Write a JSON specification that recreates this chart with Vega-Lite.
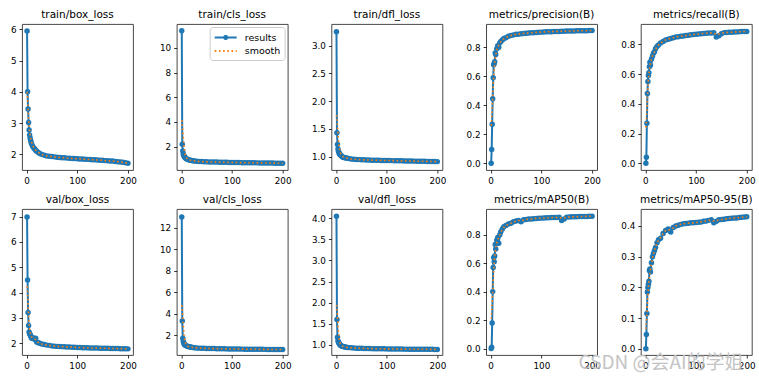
{
"$schema":"https://vega.github.io/schema/vega-lite/v6.json",
"background":"white",
"padding":{"left":1,"top":9,"right":0,"bottom":0},
"title":{"text":"CSDN @会AI的学姐","orient":"bottom","anchor":"end","fontSize":19,"color":"#c4c4c4","font":"Noto Sans CJK SC","fontWeight":"normal","offset":-16,"dx":-12},
"data":{"values":[
{"e":1,"tb":5.95,"tbs":4.0,"tc":11.4,"tcs":4.15,"td":3.25,"tds":1.75,"p":0,"ps":0.26,"rc":0,"rcs":0.24,"vb":6.98,"vbs":4.25,"vc":13.0,"vcs":4.8,"vd":4.05,"vds":1.95,"m50":0,"m50s":0.21,"m95":0,"m95s":0.065},
{"e":2,"tb":4.0,"tbs":3.8,"tc":2.2,"tcs":3.8,"td":1.43,"tds":1.68,"p":0.095,"ps":0.30,"rc":0.04,"rcs":0.28,"vb":4.5,"vbs":4.0,"vc":3.3,"vcs":4.4,"vd":1.6,"vds":1.85,"m50":0.01,"m50s":0.25,"m95":0.047,"m95s":0.08},
{"e":3,"tb":3.45,"tbs":3.45,"tc":1.65,"tcs":3.2,"td":1.22,"tds":1.55,"p":0.27,"ps":0.37,"rc":0.27,"rcs":0.35,"vb":3.22,"vbs":3.55,"vc":1.7,"vcs":3.6,"vd":1.18,"vds":1.65,"m50":0.18,"m50s":0.32,"m95":0.115,"m95s":0.11},
{"e":4,"tb":3.02,"tbs":3.15,"tc":1.4,"tcs":2.7,"td":1.14,"tds":1.42,"p":0.445,"ps":0.45,"rc":0.47,"rcs":0.43,"vb":2.7,"vbs":3.1,"vc":1.4,"vcs":2.9,"vd":1.1,"vds":1.45,"m50":0.40,"m50s":0.40,"m95":0.185,"m95s":0.145},
{"e":5,"tb":2.78,"tbs":2.92,"tc":1.28,"tcs":2.2,"td":1.10,"tds":1.30,"p":0.59,"ps":0.53,"rc":0.55,"rcs":0.50,"vb":2.45,"vbs":2.78,"vc":1.25,"vcs":2.3,"vd":1.06,"vds":1.3,"m50":0.57,"m50s":0.48,"m95":0.20,"m95s":0.175},
{"e":6,"tb":2.62,"tbs":2.75,"tc":1.2,"tcs":1.8,"td":1.07,"tds":1.21,"p":0.68,"ps":0.60,"rc":0.59,"rcs":0.56,"vb":2.38,"vbs":2.58,"vc":1.15,"vcs":1.8,"vd":1.04,"vds":1.18,"m50":0.64,"m50s":0.55,"m95":0.21,"m95s":0.20},
{"e":7,"tb":2.52,"tbs":2.63,"tc":1.14,"tcs":1.5,"td":1.05,"tds":1.15,"p":0.69,"ps":0.65,"rc":0.61,"rcs":0.60,"vb":2.35,"vbs":2.45,"vc":1.1,"vcs":1.5,"vd":1.02,"vds":1.1,"m50":0.61,"m50s":0.60,"m95":0.22,"m95s":0.218},
{"e":8,"tb":2.45,"tbs":2.53,"tc":1.1,"tcs":1.32,"td":1.04,"tds":1.10,"p":0.70,"ps":0.69,"rc":0.65,"rcs":0.63,"vb":2.3,"vbs":2.37,"vc":1.05,"vcs":1.3,"vd":1.0,"vds":1.05,"m50":0.65,"m50s":0.645,"m95":0.255,"m95s":0.232},
{"e":9,"tb":2.38,"tbs":2.46,"tc":1.06,"tcs":1.2,"td":1.03,"tds":1.07,"p":0.76,"ps":0.72,"rc":0.68,"rcs":0.655,"vb":2.25,"vbs":2.3,"vc":1.02,"vcs":1.17,"vd":0.99,"vds":1.02,"m50":0.73,"m50s":0.68,"m95":0.26,"m95s":0.245},
{"e":10,"tb":2.33,"tbs":2.40,"tc":1.03,"tcs":1.13,"td":1.02,"tds":1.05,"p":0.75,"ps":0.745,"rc":0.66,"rcs":0.67,"vb":2.2,"vbs":2.25,"vc":1.0,"vcs":1.09,"vd":0.98,"vds":1.0,"m50":0.70,"m50s":0.71,"m95":0.25,"m95s":0.255},
{"e":12,"tb":2.26,"tbs":2.30,"tc":0.98,"tcs":1.01,"td":1.0,"tds":1.02,"p":0.79,"ps":0.78,"rc":0.70,"rcs":0.70,"vb":2.22,"vbs":2.21,"vc":0.95,"vcs":0.98,"vd":0.97,"vds":0.975,"m50":0.76,"m50s":0.745,"m95":0.28,"m95s":0.275},
{"e":14,"tb":2.21,"tbs":2.23,"tc":0.95,"tcs":0.96,"td":0.99,"tds":1.0,"p":0.81,"ps":0.80,"rc":0.72,"rcs":0.72,"vb":2.2,"vbs":2.19,"vc":0.92,"vcs":0.93,"vd":0.96,"vds":0.962,"m50":0.78,"m50s":0.765,"m95":0.30,"m95s":0.295},
{"e":16,"tb":2.17,"tbs":2.18,"tc":0.92,"tcs":0.925,"td":0.985,"tds":0.99,"p":0.80,"ps":0.815,"rc":0.74,"rcs":0.737,"vb":2.15,"vbs":2.17,"vc":0.9,"vcs":0.9,"vd":0.955,"vds":0.955,"m50":0.74,"m50s":0.78,"m95":0.31,"m95s":0.308},
{"e":18,"tb":2.13,"tbs":2.14,"tc":0.9,"tcs":0.9,"td":0.98,"tds":0.983,"p":0.83,"ps":0.827,"rc":0.75,"rcs":0.75,"vb":2.2,"vbs":2.15,"vc":0.88,"vcs":0.88,"vd":0.95,"vds":0.95,"m50":0.80,"m50s":0.80,"m95":0.32,"m95s":0.32},
{"e":20,"tb":2.10,"tbs":2.11,"tc":0.88,"tcs":0.88,"td":0.975,"tds":0.977,"p":0.84,"ps":0.838,"rc":0.77,"rcs":0.765,"vb":2.05,"vbs":2.1,"vc":0.86,"vcs":0.86,"vd":0.945,"vds":0.945,"m50":0.82,"m50s":0.815,"m95":0.33,"m95s":0.33},
{"e":23,"tb":2.06,"tbs":2.065,"tc":0.86,"tcs":0.86,"td":0.97,"tds":0.97,"p":0.85,"ps":0.85,"rc":0.785,"rcs":0.783,"vb":2.02,"vbs":2.03,"vc":0.84,"vcs":0.84,"vd":0.94,"vds":0.94,"m50":0.84,"m50s":0.835,"m95":0.345,"m95s":0.345},
{"e":26,"tb":2.03,"tbs":2.035,"tc":0.84,"tcs":0.84,"td":0.965,"tds":0.965,"p":0.86,"ps":0.858,"rc":0.795,"rcs":0.795,"vb":2.0,"vbs":2.0,"vc":0.82,"vcs":0.82,"vd":0.935,"vds":0.935,"m50":0.855,"m50s":0.85,"m95":0.355,"m95s":0.353},
{"e":30,"tb":2.00,"tbs":2.0,"tc":0.82,"tcs":0.82,"td":0.96,"tds":0.96,"p":0.865,"ps":0.866,"rc":0.81,"rcs":0.808,"vb":1.97,"vbs":1.97,"vc":0.80,"vcs":0.80,"vd":0.93,"vds":0.93,"m50":0.865,"m50s":0.862,"m95":0.36,"m95s":0.362},
{"e":35,"tb":1.97,"tbs":1.97,"tc":0.80,"tcs":0.80,"td":0.955,"tds":0.955,"p":0.875,"ps":0.875,"rc":0.82,"rcs":0.82,"vb":1.95,"vbs":1.95,"vc":0.78,"vcs":0.78,"vd":0.926,"vds":0.926,"m50":0.875,"m50s":0.875,"m95":0.375,"m95s":0.375},
{"e":40,"tb":1.95,"tbs":1.95,"tc":0.79,"tcs":0.79,"td":0.95,"tds":0.95,"p":0.88,"ps":0.88,"rc":0.83,"rcs":0.83,"vb":1.93,"vbs":1.93,"vc":0.77,"vcs":0.77,"vd":0.922,"vds":0.922,"m50":0.88,"m50s":0.88,"m95":0.385,"m95s":0.385},
{"e":45,"tb":1.94,"tbs":1.94,"tc":0.78,"tcs":0.78,"td":0.947,"tds":0.947,"p":0.885,"ps":0.885,"rc":0.835,"rcs":0.835,"vb":1.92,"vbs":1.92,"vc":0.76,"vcs":0.76,"vd":0.92,"vds":0.92,"m50":0.89,"m50s":0.89,"m95":0.39,"m95s":0.387},
{"e":50,"tb":1.93,"tbs":1.93,"tc":0.77,"tcs":0.77,"td":0.945,"tds":0.945,"p":0.89,"ps":0.89,"rc":0.84,"rcs":0.84,"vb":1.90,"vbs":1.90,"vc":0.75,"vcs":0.75,"vd":0.918,"vds":0.918,"m50":0.895,"m50s":0.895,"m95":0.38,"m95s":0.388},
{"e":55,"tb":1.92,"tbs":1.92,"tc":0.765,"tcs":0.765,"td":0.943,"tds":0.943,"p":0.89,"ps":0.89,"rc":0.845,"rcs":0.845,"vb":1.89,"vbs":1.89,"vc":0.745,"vcs":0.745,"vd":0.916,"vds":0.916,"m50":0.90,"m50s":0.899,"m95":0.395,"m95s":0.393},
{"e":60,"tb":1.91,"tbs":1.91,"tc":0.76,"tcs":0.76,"td":0.941,"tds":0.941,"p":0.893,"ps":0.893,"rc":0.85,"rcs":0.85,"vb":1.88,"vbs":1.88,"vc":0.74,"vcs":0.74,"vd":0.914,"vds":0.914,"m50":0.89,"m50s":0.899,"m95":0.40,"m95s":0.40},
{"e":65,"tb":1.90,"tbs":1.90,"tc":0.755,"tcs":0.755,"td":0.939,"tds":0.939,"p":0.895,"ps":0.895,"rc":0.852,"rcs":0.852,"vb":1.875,"vbs":1.875,"vc":0.735,"vcs":0.735,"vd":0.912,"vds":0.912,"m50":0.905,"m50s":0.902,"m95":0.402,"m95s":0.402},
{"e":70,"tb":1.895,"tbs":1.895,"tc":0.75,"tcs":0.75,"td":0.937,"tds":0.937,"p":0.897,"ps":0.897,"rc":0.855,"rcs":0.855,"vb":1.87,"vbs":1.87,"vc":0.73,"vcs":0.73,"vd":0.911,"vds":0.911,"m50":0.907,"m50s":0.907,"m95":0.405,"m95s":0.405},
{"e":75,"tb":1.89,"tbs":1.89,"tc":0.745,"tcs":0.745,"td":0.936,"tds":0.936,"p":0.898,"ps":0.898,"rc":0.857,"rcs":0.857,"vb":1.865,"vbs":1.865,"vc":0.725,"vcs":0.725,"vd":0.91,"vds":0.91,"m50":0.909,"m50s":0.909,"m95":0.407,"m95s":0.407},
{"e":80,"tb":1.88,"tbs":1.88,"tc":0.74,"tcs":0.74,"td":0.935,"tds":0.935,"p":0.90,"ps":0.90,"rc":0.86,"rcs":0.86,"vb":1.86,"vbs":1.86,"vc":0.72,"vcs":0.72,"vd":0.909,"vds":0.909,"m50":0.91,"m50s":0.91,"m95":0.408,"m95s":0.408},
{"e":85,"tb":1.875,"tbs":1.875,"tc":0.735,"tcs":0.735,"td":0.934,"tds":0.934,"p":0.90,"ps":0.90,"rc":0.862,"rcs":0.862,"vb":1.855,"vbs":1.855,"vc":0.715,"vcs":0.715,"vd":0.908,"vds":0.908,"m50":0.912,"m50s":0.912,"m95":0.409,"m95s":0.409},
{"e":90,"tb":1.87,"tbs":1.87,"tc":0.73,"tcs":0.73,"td":0.933,"tds":0.933,"p":0.902,"ps":0.902,"rc":0.865,"rcs":0.865,"vb":1.85,"vbs":1.85,"vc":0.71,"vcs":0.71,"vd":0.907,"vds":0.907,"m50":0.914,"m50s":0.914,"m95":0.41,"m95s":0.41},
{"e":95,"tb":1.865,"tbs":1.865,"tc":0.725,"tcs":0.725,"td":0.932,"tds":0.932,"p":0.903,"ps":0.903,"rc":0.866,"rcs":0.866,"vb":1.845,"vbs":1.845,"vc":0.705,"vcs":0.705,"vd":0.906,"vds":0.906,"m50":0.915,"m50s":0.915,"m95":0.41,"m95s":0.41},
{"e":100,"tb":1.86,"tbs":1.86,"tc":0.72,"tcs":0.72,"td":0.931,"tds":0.931,"p":0.904,"ps":0.904,"rc":0.868,"rcs":0.868,"vb":1.84,"vbs":1.84,"vc":0.70,"vcs":0.70,"vd":0.905,"vds":0.905,"m50":0.916,"m50s":0.916,"m95":0.411,"m95s":0.411},
{"e":105,"tb":1.855,"tbs":1.855,"tc":0.715,"tcs":0.715,"td":0.930,"tds":0.930,"p":0.905,"ps":0.905,"rc":0.87,"rcs":0.87,"vb":1.835,"vbs":1.835,"vc":0.697,"vcs":0.697,"vd":0.904,"vds":0.904,"m50":0.917,"m50s":0.917,"m95":0.412,"m95s":0.412},
{"e":110,"tb":1.85,"tbs":1.85,"tc":0.712,"tcs":0.712,"td":0.929,"tds":0.929,"p":0.906,"ps":0.906,"rc":0.872,"rcs":0.872,"vb":1.83,"vbs":1.83,"vc":0.694,"vcs":0.694,"vd":0.903,"vds":0.903,"m50":0.918,"m50s":0.918,"m95":0.413,"m95s":0.413},
{"e":115,"tb":1.845,"tbs":1.845,"tc":0.709,"tcs":0.709,"td":0.928,"tds":0.928,"p":0.907,"ps":0.907,"rc":0.873,"rcs":0.873,"vb":1.828,"vbs":1.828,"vc":0.691,"vcs":0.691,"vd":0.902,"vds":0.902,"m50":0.919,"m50s":0.919,"m95":0.415,"m95s":0.415},
{"e":120,"tb":1.84,"tbs":1.84,"tc":0.706,"tcs":0.706,"td":0.927,"tds":0.927,"p":0.907,"ps":0.907,"rc":0.875,"rcs":0.875,"vb":1.825,"vbs":1.825,"vc":0.688,"vcs":0.688,"vd":0.901,"vds":0.901,"m50":0.92,"m50s":0.92,"m95":0.416,"m95s":0.416},
{"e":125,"tb":1.835,"tbs":1.835,"tc":0.703,"tcs":0.703,"td":0.926,"tds":0.926,"p":0.908,"ps":0.908,"rc":0.876,"rcs":0.876,"vb":1.82,"vbs":1.82,"vc":0.685,"vcs":0.685,"vd":0.90,"vds":0.90,"m50":0.92,"m50s":0.92,"m95":0.418,"m95s":0.418},
{"e":130,"tb":1.83,"tbs":1.83,"tc":0.70,"tcs":0.70,"td":0.925,"tds":0.925,"p":0.909,"ps":0.909,"rc":0.877,"rcs":0.877,"vb":1.818,"vbs":1.818,"vc":0.682,"vcs":0.682,"vd":0.90,"vds":0.90,"m50":0.921,"m50s":0.921,"m95":0.42,"m95s":0.417},
{"e":135,"tb":1.825,"tbs":1.825,"tc":0.697,"tcs":0.697,"td":0.924,"tds":0.924,"p":0.909,"ps":0.909,"rc":0.878,"rcs":0.874,"vb":1.815,"vbs":1.815,"vc":0.679,"vcs":0.679,"vd":0.899,"vds":0.899,"m50":0.922,"m50s":0.919,"m95":0.41,"m95s":0.416},
{"e":140,"tb":1.82,"tbs":1.82,"tc":0.694,"tcs":0.694,"td":0.923,"tds":0.923,"p":0.91,"ps":0.91,"rc":0.85,"rcs":0.868,"vb":1.812,"vbs":1.812,"vc":0.676,"vcs":0.676,"vd":0.899,"vds":0.899,"m50":0.90,"m50s":0.916,"m95":0.415,"m95s":0.417},
{"e":145,"tb":1.815,"tbs":1.815,"tc":0.691,"tcs":0.691,"td":0.922,"tds":0.922,"p":0.91,"ps":0.91,"rc":0.858,"rcs":0.87,"vb":1.81,"vbs":1.81,"vc":0.673,"vcs":0.673,"vd":0.898,"vds":0.898,"m50":0.91,"m50s":0.918,"m95":0.42,"m95s":0.42},
{"e":150,"tb":1.81,"tbs":1.81,"tc":0.688,"tcs":0.688,"td":0.921,"tds":0.921,"p":0.911,"ps":0.911,"rc":0.872,"rcs":0.875,"vb":1.808,"vbs":1.808,"vc":0.67,"vcs":0.67,"vd":0.898,"vds":0.898,"m50":0.923,"m50s":0.921,"m95":0.421,"m95s":0.421},
{"e":155,"tb":1.80,"tbs":1.80,"tc":0.685,"tcs":0.685,"td":0.920,"tds":0.920,"p":0.911,"ps":0.911,"rc":0.879,"rcs":0.879,"vb":1.805,"vbs":1.805,"vc":0.668,"vcs":0.668,"vd":0.897,"vds":0.897,"m50":0.924,"m50s":0.924,"m95":0.422,"m95s":0.422},
{"e":160,"tb":1.795,"tbs":1.795,"tc":0.682,"tcs":0.682,"td":0.919,"tds":0.919,"p":0.912,"ps":0.912,"rc":0.88,"rcs":0.88,"vb":1.802,"vbs":1.802,"vc":0.666,"vcs":0.666,"vd":0.897,"vds":0.897,"m50":0.925,"m50s":0.925,"m95":0.423,"m95s":0.423},
{"e":165,"tb":1.79,"tbs":1.79,"tc":0.679,"tcs":0.679,"td":0.918,"tds":0.918,"p":0.912,"ps":0.912,"rc":0.881,"rcs":0.881,"vb":1.80,"vbs":1.80,"vc":0.664,"vcs":0.664,"vd":0.896,"vds":0.896,"m50":0.925,"m50s":0.925,"m95":0.424,"m95s":0.424},
{"e":170,"tb":1.785,"tbs":1.785,"tc":0.676,"tcs":0.676,"td":0.917,"tds":0.917,"p":0.913,"ps":0.913,"rc":0.882,"rcs":0.882,"vb":1.798,"vbs":1.798,"vc":0.662,"vcs":0.662,"vd":0.896,"vds":0.896,"m50":0.926,"m50s":0.926,"m95":0.425,"m95s":0.425},
{"e":175,"tb":1.775,"tbs":1.775,"tc":0.673,"tcs":0.673,"td":0.916,"tds":0.916,"p":0.913,"ps":0.913,"rc":0.883,"rcs":0.883,"vb":1.795,"vbs":1.795,"vc":0.66,"vcs":0.66,"vd":0.895,"vds":0.895,"m50":0.927,"m50s":0.927,"m95":0.426,"m95s":0.426},
{"e":180,"tb":1.765,"tbs":1.765,"tc":0.67,"tcs":0.67,"td":0.915,"tds":0.915,"p":0.914,"ps":0.914,"rc":0.884,"rcs":0.884,"vb":1.792,"vbs":1.792,"vc":0.658,"vcs":0.658,"vd":0.895,"vds":0.895,"m50":0.927,"m50s":0.927,"m95":0.426,"m95s":0.426},
{"e":185,"tb":1.755,"tbs":1.755,"tc":0.666,"tcs":0.666,"td":0.914,"tds":0.914,"p":0.914,"ps":0.914,"rc":0.885,"rcs":0.885,"vb":1.79,"vbs":1.79,"vc":0.656,"vcs":0.656,"vd":0.894,"vds":0.894,"m50":0.928,"m50s":0.928,"m95":0.427,"m95s":0.427},
{"e":190,"tb":1.745,"tbs":1.745,"tc":0.662,"tcs":0.662,"td":0.913,"tds":0.913,"p":0.914,"ps":0.914,"rc":0.886,"rcs":0.886,"vb":1.788,"vbs":1.788,"vc":0.654,"vcs":0.654,"vd":0.894,"vds":0.894,"m50":0.928,"m50s":0.928,"m95":0.428,"m95s":0.428},
{"e":195,"tb":1.73,"tbs":1.73,"tc":0.658,"tcs":0.658,"td":0.912,"tds":0.912,"p":0.915,"ps":0.915,"rc":0.887,"rcs":0.887,"vb":1.785,"vbs":1.785,"vc":0.652,"vcs":0.652,"vd":0.893,"vds":0.893,"m50":0.929,"m50s":0.929,"m95":0.429,"m95s":0.429},
{"e":200,"tb":1.715,"tbs":1.715,"tc":0.654,"tcs":0.654,"td":0.911,"tds":0.911,"p":0.915,"ps":0.915,"rc":0.886,"rcs":0.886,"vb":1.782,"vbs":1.782,"vc":0.65,"vcs":0.65,"vd":0.893,"vds":0.893,"m50":0.929,"m50s":0.929,"m95":0.43,"m95s":0.43}
]},
"columns":5,
"spacing":{"row":8,"column":18.7},
"resolve":{"scale":{"color":"independent"},"legend":{"color":"independent"}},
"concat":[
{"title":"train/box_loss","width":111,"height":146,
 "encoding":{"x":{"field":"e","type":"quantitative","title":null,"scale":{"domain":[-9,210],"nice":false},"axis":{"values":[0,100,200]}}},
 "layer":[
 {"mark":{"type":"line","color":"#1f77b4","strokeWidth":2,"point":{"filled":true,"size":30,"opacity":1,"color":"#1f77b4"}},
  "encoding":{"y":{"field":"tb","type":"quantitative","title":null,"scale":{"domain":[1.5,6.17],"nice":false,"zero":false},"axis":{"values":[2,3,4,5,6],"format":"d"}}}},
 {"mark":{"type":"line","color":"#ff7f0e","strokeWidth":1.6,"strokeDash":[1.6,2.6]},
  "encoding":{"y":{"field":"tbs","type":"quantitative","title":null,"scale":{"domain":[1.5,6.17],"nice":false,"zero":false},"axis":{"values":[2,3,4,5,6],"format":"d"}}}}]},
{"title":"train/cls_loss","width":111,"height":146,
 "encoding":{"x":{"field":"e","type":"quantitative","title":null,"scale":{"domain":[-9,210],"nice":false},"axis":{"values":[0,100,200]}}},
 "layer":[
 {"mark":{"type":"line","strokeWidth":2,"point":{"filled":true,"size":30,"opacity":1}},
  "encoding":{"y":{"field":"tc","type":"quantitative","title":null,"scale":{"domain":[0.11,11.94],"nice":false,"zero":false},"axis":{"values":[2,4,6,8,10],"format":"d"}},
   "color":{"datum":"results","scale":{"domain":["results","smooth"],"range":["#1f77b4","#ff7f0e"]},
    "legend":{"title":null,"orient":"top-right","offset":3,"symbolType":"stroke","symbolSize":121,"symbolStrokeWidth":1.8,"symbolOffset":5.5,"labelFontSize":9.5,"labelFont":"DejaVu Sans","labelColor":"#000","fillColor":"#fff","strokeColor":"#cccccc","cornerRadius":3,"padding":4,"rowPadding":1.5,"labelOffset":12.5,
     "encode":{"symbols":{"update":{
       "shape":{"signal":"datum.value === 'smooth' ? 'M-2,0H2' : 'M-2,0H2M0.3,0A0.3,0.3 0 1,1 -0.3,0A0.3,0.3 0 1,1 0.3,0'"},
       "fill":{"signal":"datum.value === 'smooth' ? 'transparent' : '#1f77b4'"},
       "strokeDash":{"signal":"datum.value === 'smooth' ? [1.6,2.6] : [1,0]"}}}}}}}},
 {"mark":{"type":"line","strokeWidth":1.6,"strokeDash":[1.6,2.6]},
  "encoding":{"y":{"field":"tcs","type":"quantitative","title":null,"scale":{"domain":[0.11,11.94],"nice":false,"zero":false},"axis":{"values":[2,4,6,8,10],"format":"d"}},"color":{"datum":"smooth"}}}]},
{"title":"train/dfl_loss","width":111,"height":146,
 "encoding":{"x":{"field":"e","type":"quantitative","title":null,"scale":{"domain":[-9,210],"nice":false},"axis":{"values":[0,100,200]}}},
 "layer":[
 {"mark":{"type":"line","color":"#1f77b4","strokeWidth":2,"point":{"filled":true,"size":30,"opacity":1,"color":"#1f77b4"}},
  "encoding":{"y":{"field":"td","type":"quantitative","title":null,"scale":{"domain":[0.76,3.39],"nice":false,"zero":false},"axis":{"values":[1,1.5,2,2.5,3],"format":".1f"}}}},
 {"mark":{"type":"line","color":"#ff7f0e","strokeWidth":1.6,"strokeDash":[1.6,2.6]},
  "encoding":{"y":{"field":"tds","type":"quantitative","title":null,"scale":{"domain":[0.76,3.39],"nice":false,"zero":false},"axis":{"values":[1,1.5,2,2.5,3],"format":".1f"}}}}]},
{"title":"metrics/precision(B)","width":111,"height":146,
 "encoding":{"x":{"field":"e","type":"quantitative","title":null,"scale":{"domain":[-9,210],"nice":false},"axis":{"values":[0,100,200]}}},
 "layer":[
 {"mark":{"type":"line","color":"#1f77b4","strokeWidth":2,"point":{"filled":true,"size":30,"opacity":1,"color":"#1f77b4"}},
  "encoding":{"y":{"field":"p","type":"quantitative","title":null,"scale":{"domain":[-0.046,0.96],"nice":false,"zero":false},"axis":{"values":[0,0.2,0.4,0.6,0.8],"format":".1f"}}}},
 {"mark":{"type":"line","color":"#ff7f0e","strokeWidth":1.6,"strokeDash":[1.6,2.6]},
  "encoding":{"y":{"field":"ps","type":"quantitative","title":null,"scale":{"domain":[-0.046,0.96],"nice":false,"zero":false},"axis":{"values":[0,0.2,0.4,0.6,0.8],"format":".1f"}}}}]},
{"title":"metrics/recall(B)","width":111,"height":146,
 "encoding":{"x":{"field":"e","type":"quantitative","title":null,"scale":{"domain":[-9,210],"nice":false},"axis":{"values":[0,100,200]}}},
 "layer":[
 {"mark":{"type":"line","color":"#1f77b4","strokeWidth":2,"point":{"filled":true,"size":30,"opacity":1,"color":"#1f77b4"}},
  "encoding":{"y":{"field":"rc","type":"quantitative","title":null,"scale":{"domain":[-0.045,0.937],"nice":false,"zero":false},"axis":{"values":[0,0.2,0.4,0.6,0.8],"format":".1f"}}}},
 {"mark":{"type":"line","color":"#ff7f0e","strokeWidth":1.6,"strokeDash":[1.6,2.6]},
  "encoding":{"y":{"field":"rcs","type":"quantitative","title":null,"scale":{"domain":[-0.045,0.937],"nice":false,"zero":false},"axis":{"values":[0,0.2,0.4,0.6,0.8],"format":".1f"}}}}]},
{"title":"val/box_loss","width":111,"height":146,
 "encoding":{"x":{"field":"e","type":"quantitative","title":null,"scale":{"domain":[-9,210],"nice":false},"axis":{"values":[0,100,200]}}},
 "layer":[
 {"mark":{"type":"line","color":"#1f77b4","strokeWidth":2,"point":{"filled":true,"size":30,"opacity":1,"color":"#1f77b4"}},
  "encoding":{"y":{"field":"vb","type":"quantitative","title":null,"scale":{"domain":[1.54,7.3],"nice":false,"zero":false},"axis":{"values":[2,3,4,5,6,7],"format":"d"}}}},
 {"mark":{"type":"line","color":"#ff7f0e","strokeWidth":1.6,"strokeDash":[1.6,2.6]},
  "encoding":{"y":{"field":"vbs","type":"quantitative","title":null,"scale":{"domain":[1.54,7.3],"nice":false,"zero":false},"axis":{"values":[2,3,4,5,6,7],"format":"d"}}}}]},
{"title":"val/cls_loss","width":111,"height":146,
 "encoding":{"x":{"field":"e","type":"quantitative","title":null,"scale":{"domain":[-9,210],"nice":false},"axis":{"values":[0,100,200]}}},
 "layer":[
 {"mark":{"type":"line","color":"#1f77b4","strokeWidth":2,"point":{"filled":true,"size":30,"opacity":1,"color":"#1f77b4"}},
  "encoding":{"y":{"field":"vc","type":"quantitative","title":null,"scale":{"domain":[0.14,13.74],"nice":false,"zero":false},"axis":{"values":[2,4,6,8,10,12],"format":"d"}}}},
 {"mark":{"type":"line","color":"#ff7f0e","strokeWidth":1.6,"strokeDash":[1.6,2.6]},
  "encoding":{"y":{"field":"vcs","type":"quantitative","title":null,"scale":{"domain":[0.14,13.74],"nice":false,"zero":false},"axis":{"values":[2,4,6,8,10,12],"format":"d"}}}}]},
{"title":"val/dfl_loss","width":111,"height":146,
 "encoding":{"x":{"field":"e","type":"quantitative","title":null,"scale":{"domain":[-9,210],"nice":false},"axis":{"values":[0,100,200]}}},
 "layer":[
 {"mark":{"type":"line","color":"#1f77b4","strokeWidth":2,"point":{"filled":true,"size":30,"opacity":1,"color":"#1f77b4"}},
  "encoding":{"y":{"field":"vd","type":"quantitative","title":null,"scale":{"domain":[0.76,4.22],"nice":false,"zero":false},"axis":{"values":[1,1.5,2,2.5,3,3.5,4],"format":".1f"}}}},
 {"mark":{"type":"line","color":"#ff7f0e","strokeWidth":1.6,"strokeDash":[1.6,2.6]},
  "encoding":{"y":{"field":"vds","type":"quantitative","title":null,"scale":{"domain":[0.76,4.22],"nice":false,"zero":false},"axis":{"values":[1,1.5,2,2.5,3,3.5,4],"format":".1f"}}}}]},
{"title":"metrics/mAP50(B)","width":111,"height":146,
 "encoding":{"x":{"field":"e","type":"quantitative","title":null,"scale":{"domain":[-9,210],"nice":false},"axis":{"values":[0,100,200]}}},
 "layer":[
 {"mark":{"type":"line","color":"#1f77b4","strokeWidth":2,"point":{"filled":true,"size":30,"opacity":1,"color":"#1f77b4"}},
  "encoding":{"y":{"field":"m50","type":"quantitative","title":null,"scale":{"domain":[-0.045,0.98],"nice":false,"zero":false},"axis":{"values":[0,0.2,0.4,0.6,0.8],"format":".1f"}}}},
 {"mark":{"type":"line","color":"#ff7f0e","strokeWidth":1.6,"strokeDash":[1.6,2.6]},
  "encoding":{"y":{"field":"m50s","type":"quantitative","title":null,"scale":{"domain":[-0.045,0.98],"nice":false,"zero":false},"axis":{"values":[0,0.2,0.4,0.6,0.8],"format":".1f"}}}}]},
{"title":"metrics/mAP50-95(B)","width":111,"height":146,
 "encoding":{"x":{"field":"e","type":"quantitative","title":null,"scale":{"domain":[-9,210],"nice":false},"axis":{"values":[0,100,200]}}},
 "layer":[
 {"mark":{"type":"line","color":"#1f77b4","strokeWidth":2,"point":{"filled":true,"size":30,"opacity":1,"color":"#1f77b4"}},
  "encoding":{"y":{"field":"m95","type":"quantitative","title":null,"scale":{"domain":[-0.02,0.455],"nice":false,"zero":false},"axis":{"values":[0,0.1,0.2,0.3,0.4],"format":".1f"}}}},
 {"mark":{"type":"line","color":"#ff7f0e","strokeWidth":1.6,"strokeDash":[1.6,2.6]},
  "encoding":{"y":{"field":"m95s","type":"quantitative","title":null,"scale":{"domain":[-0.02,0.455],"nice":false,"zero":false},"axis":{"values":[0,0.1,0.2,0.3,0.4],"format":".1f"}}}}]}
],
"config":{
 "view":{"stroke":"#333333","strokeWidth":0.9},
 "axis":{"domain":false,"grid":false,"ticks":true,"tickColor":"#000","tickSize":3,"tickWidth":0.8,"labelFont":"DejaVu Sans","labelFontSize":8.8,"labelColor":"#000","labelPadding":3,"labelFlush":false,"labelOverlap":false},
 "axisY":{"minExtent":20,"maxExtent":20},
 "title":{"font":"DejaVu Sans","fontSize":10.5,"fontWeight":"normal","color":"#000","offset":4}
}
}
